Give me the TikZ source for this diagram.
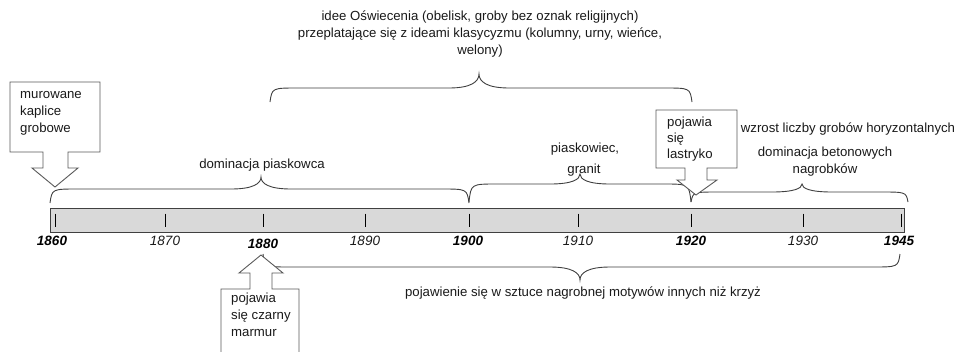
\documentclass[tikz,border=0pt]{standalone}
\usepackage{fontspec}
\setmainfont{Liberation Sans}
\usetikzlibrary{calc}
\definecolor{txt}{HTML}{1A1A1A}
\definecolor{linec}{HTML}{404040}
\definecolor{boxc}{HTML}{5A5A5A}
\definecolor{barfill}{HTML}{D9D9D9}
\newcommand\drawbrace[6]{% x1, x2, xm, yend, yh, ytip
  \pgfmathsetmacro\bracemidq{#5+0.45*(#6-#5)}%
  \draw[bracestyle] (#1,#4) .. controls (#1+2,#5) .. (#1+28,#5) -- (#3-30,#5)
    .. controls (#3-8,#5) and (#3,\bracemidq) .. (#3,#6)
    .. controls (#3,\bracemidq) and (#3+8,#5) .. (#3+30,#5) -- (#2-28,#5)
    .. controls (#2-2,#5) .. (#2,#4);}
\tikzset{
  bracestyle/.style={draw=linec, line width=0.9pt},
  calloutbox/.style={draw=boxc, line width=0.9pt, fill=white, line join=miter},
  lbl/.style={font=\fontsize{13.2}{17}\selectfont, inner sep=0pt, text=txt},
  yearn/.style={font=\fontsize{13.5}{16}\selectfont\itshape, inner sep=0pt, text=txt},
  yearb/.style={font=\fontsize{13.5}{16}\selectfont\bfseries\itshape, inner sep=0pt, text=black},
  tickstyle/.style={draw=black, line width=0.9pt},
}
\begin{document}
\begin{tikzpicture}[x=1pt, y=-1pt]
\useasboundingbox (0,0) rectangle (960,351);
\clip (0,0) rectangle (960,351);
\fill[white] (0,0) rectangle (960,351);

% timeline bar
\draw[draw=linec, line width=1pt, fill=barfill] (50.5,208.5) rectangle (904,232);
\foreach \xx in {55,165,263,365,469,578,691,803,901}
  \draw[tickstyle] (\xx,213.5) -- (\xx,227);

% years
\node[yearb] (y1860) at (52,241) {1860};
\node[yearn] (y1870) at (165,241) {1870};
\node[yearb] (y1880) at (263,243.5) {1880};
\node[yearn] (y1890) at (365,241) {1890};
\node[yearb] (y1900) at (468,241) {1900};
\node[yearn] (y1910) at (578,241) {1910};
\node[yearb] (y1920) at (691,241) {1920};
\node[yearn] (y1930) at (803,241) {1930};
\node[yearb] (y1945) at (899,241) {1945};

% braces
\drawbrace{270}{692}{479}{102}{88}{74}
\drawbrace{50}{469}{261}{203}{189}{177}
\drawbrace{469}{691}{580}{202}{184}{174}
\drawbrace{691}{908}{802}{202}{192}{184}
\drawbrace{263}{900}{580}{254}{267}{280}

% brace labels
\node[lbl, align=center] (oswiec) at (480,34.5) {idee Oświecenia (obelisk, groby bez oznak religijnych)\\przeplatające się z ideami klasycyzmu (kolumny, urny, wieńce,\\welony)};
\node[lbl] (dompiask) at (262,165) {dominacja piaskowca};
\node[lbl] (piask) at (585,149) {piaskowiec,};
\node[lbl] (granit) at (584,170) {granit};
\node[lbl] (wzrost) at (848,129) {wzrost liczby grobów horyzontalnych};
\node[lbl, align=center] (beton) at (825,162) {dominacja betonowych\\nagrobków};
\node[lbl] (motywy) at (583,293) {pojawienie się w sztuce nagrobnej motywów innych niż krzyż};

% callout: murowane kaplice grobowe
\draw[calloutbox] (10,82) -- (100,82) -- (100,152) -- (68,152) -- (68,168) -- (78,168)
  -- (55,187) -- (32,168) -- (43,168) -- (43,152) -- (10,152) -- cycle;
\node[lbl, align=left, anchor=west] (kaplice) at (20,113) {murowane\\kaplice\\grobowe};

% callout: pojawia się lastryko
\draw[calloutbox] (656,110) -- (737,110) -- (737,168) -- (707,168) -- (707,180) -- (717,180)
  -- (696,195) -- (677,180) -- (685,180) -- (685,168) -- (656,168) -- cycle;
\node[lbl, align=left, anchor=west, font=\fontsize{13.2}{16}\selectfont] (lastryko) at (667,139) {pojawia\\się\\lastryko};

% callout: pojawia się czarny marmur
\draw[calloutbox] (221,360) -- (221,289) -- (250,289) -- (250,273) -- (239,273) -- (261,255)
  -- (283,273) -- (272,273) -- (272,289) -- (299,289) -- (299,360);
\node[lbl, align=left, anchor=west] (marmur) at (231,315) {pojawia\\się czarny\\marmur};
\end{tikzpicture}
\end{document}
